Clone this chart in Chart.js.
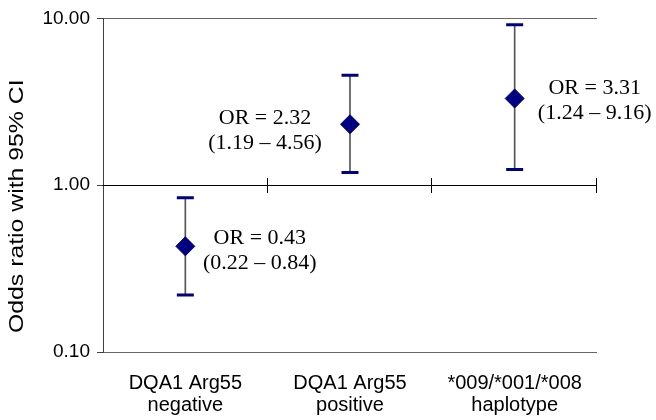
<!DOCTYPE html>
<html>
<head>
<meta charset="utf-8">
<script src="https://cdn.jsdelivr.net/npm/chart.js@4/dist/chart.umd.min.js"></script>
<style>
  html, body { margin: 0; padding: 0; background: #fff; }
  #wrap { width: 656px; height: 420px; }
</style>
</head>
<body>
<div id="wrap"><canvas id="c" width="656" height="420"></canvas></div>
<script>
// ---- data ----
const categories = [
  ['DQA1 Arg55', 'negative'],
  ['DQA1 Arg55', 'positive'],
  ['*009/*001/*008', 'haplotype']
];
const oddsRatios = [0.43, 2.32, 3.31];
const ciLower = [0.22, 1.19, 1.24];
const ciUpper = [0.84, 4.56, 9.16];
const yTickValues = [0.1, 1, 10];
const yTickLabels = ['0.10', '1.00', '10.00'];
const yTitle = 'Odds ratio with 95% CI';

const annotationLines = oddsRatios.map((v, i) => [
  'OR = ' + v.toFixed(2),
  '(' + ciLower[i].toFixed(2) + ' \u2013 ' + ciUpper[i].toFixed(2) + ')'
]);

const SANS = '"Liberation Sans", Arial, Helvetica, sans-serif';
const SERIF = '"Liberation Serif", "Times New Roman", Times, serif';
const NAVY = '#000080';

const refPlugin = {
  id: 'refPlugin',
  afterDraw(chart) {
    const ctx = chart.ctx;
    const xs = chart.scales.x, ys = chart.scales.y;
    const y1 = Math.round(ys.getPixelForValue(1)) + 0.5;
    ctx.save();
    // horizontal axis crossing at 1.00
    ctx.strokeStyle = '#000';
    ctx.lineWidth = 1;
    ctx.beginPath();
    ctx.moveTo(xs.left, y1);
    ctx.lineTo(xs.right, y1);
    const n = categories.length;
    const w = (xs.right - xs.left) / n;
    for (let k = 1; k <= n; k++) {
      const bx = Math.round(xs.left + k * w) - 0.5;
      ctx.moveTo(bx, y1 - 7.5);
      ctx.lineTo(bx, y1 + 7.5);
    }
    ctx.stroke();

    // annotations
    const dx = [74.5, -85, 80];
    const dy = [-2, 0, -4];
    ctx.fillStyle = '#000';
    ctx.font = '22px ' + SERIF;
    ctx.textAlign = 'center';
    ctx.textBaseline = 'alphabetic';
    annotationLines.forEach((lines, i) => {
      const px = xs.getPixelForValue(i);
      const py = ys.getPixelForValue(oddsRatios[i]);
      lines.forEach((t, j) => {
        ctx.fillText(t, px + dx[i], py + dy[i] + j * 25);
      });
    });

    // y axis title
    ctx.font = '20px ' + SANS;
    ctx.textBaseline = 'middle';
    ctx.translate(17, (ys.top + ys.bottom) / 2 + 21);
    ctx.rotate(-Math.PI / 2);
    ctx.scale(1.24, 1);
    ctx.fillText(yTitle, 0, 0);
    ctx.restore();
  }
};

new Chart(document.getElementById('c'), {
  type: 'bar',
  data: {
    labels: categories,
    datasets: [
      {
        type: 'bar',
        data: ciLower.map((lo, i) => [lo, ciUpper[i]]),
        backgroundColor: '#555555',
        borderWidth: 0,
        barThickness: 1,
        order: 3
      },
      {
        type: 'line',
        data: ciUpper,
        showLine: false,
        pointStyle: 'line',
        pointRadius: 8.5,
        pointBorderWidth: 3,
        pointBorderColor: NAVY,
        order: 2
      },
      {
        type: 'line',
        data: ciLower,
        showLine: false,
        pointStyle: 'line',
        pointRadius: 8.5,
        pointBorderWidth: 3,
        pointBorderColor: NAVY,
        order: 2
      },
      {
        type: 'line',
        data: oddsRatios,
        showLine: false,
        pointStyle: 'rectRot',
        pointRadius: 9.5,
        pointBackgroundColor: NAVY,
        pointBorderColor: NAVY,
        pointBorderWidth: 1,
        order: 1
      }
    ]
  },
  options: {
    responsive: false,
    animation: false,
    events: [],
    layout: { padding: { top: 16, right: 59, left: 0, bottom: 0 } },
    plugins: { legend: { display: false }, tooltip: { enabled: false } },
    scales: {
      x: {
        type: 'category',
        offset: true,
        grid: { display: false, drawTicks: false },
        border: { display: false },
        ticks: {
          color: '#000',
          font: { family: SANS, size: 20, lineHeight: 1.1 },
          padding: 20,
          maxRotation: 0,
          autoSkip: false
        },
        afterFit(s) { s.height = 68; }
      },
      y: {
        type: 'logarithmic',
        min: 0.1,
        max: 10,
        afterBuildTicks(s) { s.ticks = yTickValues.map(v => ({ value: v })); },
        grid: {
          color: ctx => (ctx.tick && ctx.tick.value === 1) ? 'rgba(0,0,0,0)' : '#666666',
          tickColor: '#404040',
          tickLength: 6,
          lineWidth: 1
        },
        border: { display: true, color: '#404040', width: 1 },
        ticks: {
          color: '#000',
          font: { family: SANS, size: 19 },
          padding: 7,
          callback: (v) => yTickLabels[yTickValues.indexOf(v)]
        },
        afterFit(s) { s.width = 103; }
      }
    }
  },
  plugins: [refPlugin]
});
</script>
</body>
</html>
